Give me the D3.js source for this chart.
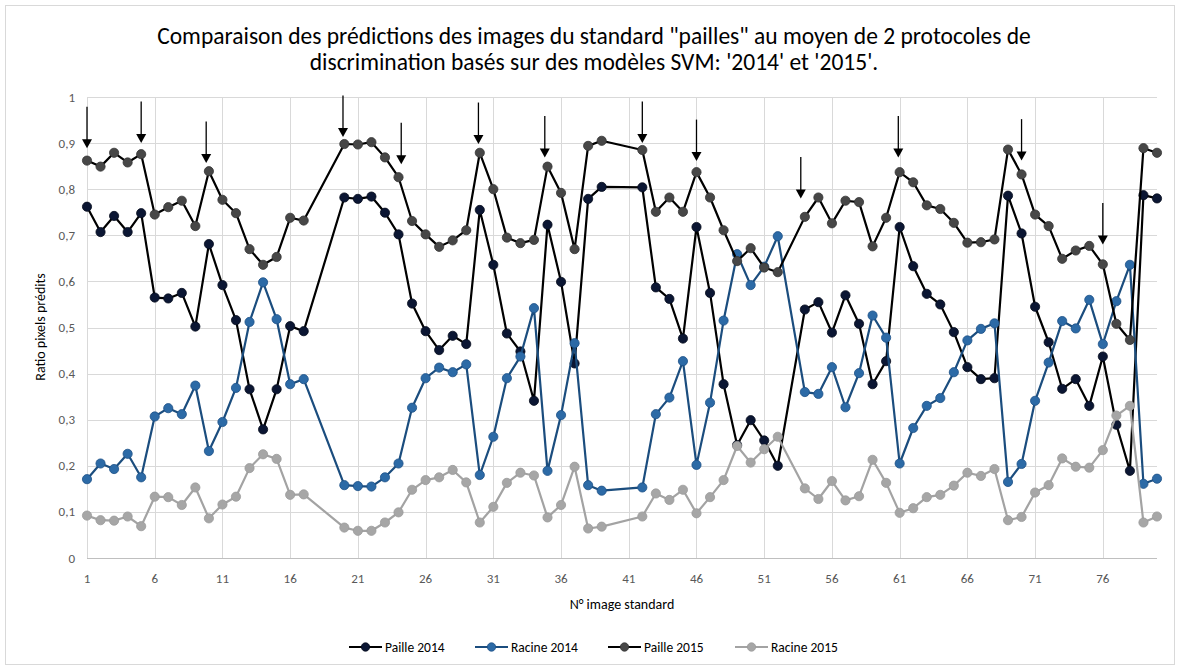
<!DOCTYPE html>
<html>
<head>
<meta charset="utf-8">
<script src="https://cdn.jsdelivr.net/npm/d3@7"></script>
<style>
  html, body { margin: 0; padding: 0; background: #fff; }
  svg { display: block; }
  text { font-family: Carlito, Lato, "Open Sans", sans-serif; }
</style>
</head>
<body>
<svg id="chart" width="1181" height="671"></svg>
<script>
// Image numbers 1..80 (18, 19, 40, 41 and 53 have no measurement)
const imageIds = d3.range(1, 81);
const missing = [18, 19, 40, 41, 53];

// Series values, in image order, skipping the missing images
const paille2014 = [
  0.762, 0.707, 0.742, 0.707, 0.748, 0.565, 0.563, 0.575, 0.502, 0.681,
  0.592, 0.516, 0.366, 0.279, 0.366, 0.503, 0.492,
  0.782, 0.779, 0.784, 0.749, 0.702, 0.552, 0.492, 0.451, 0.482, 0.464, 0.755,
  0.636, 0.487, 0.448, 0.341, 0.723, 0.599, 0.422, 0.779, 0.805,
  0.804, 0.587, 0.562, 0.476, 0.718, 0.575, 0.377, 0.245, 0.299, 0.255, 0.200,
  0.539, 0.555, 0.489, 0.570, 0.508, 0.377, 0.427, 0.718, 0.633, 0.573, 0.550,
  0.490, 0.414, 0.388, 0.390, 0.786, 0.704, 0.545, 0.468, 0.367, 0.388, 0.330,
  0.437, 0.289, 0.189, 0.787, 0.780
];
const racine2014 = [
  0.171, 0.205, 0.193, 0.226, 0.175, 0.307, 0.325, 0.312, 0.374, 0.232,
  0.295, 0.369, 0.512, 0.598, 0.518, 0.377, 0.388,
  0.158, 0.156, 0.155, 0.175, 0.205, 0.326, 0.390, 0.413, 0.403, 0.420, 0.180,
  0.263, 0.390, 0.437, 0.542, 0.189, 0.310, 0.466, 0.158, 0.146,
  0.153, 0.312, 0.348, 0.427, 0.202, 0.337, 0.515, 0.659, 0.592, 0.632, 0.698,
  0.360, 0.356, 0.414, 0.327, 0.401, 0.526, 0.478, 0.205, 0.282, 0.330, 0.347,
  0.403, 0.472, 0.497, 0.509, 0.165, 0.204, 0.341, 0.424, 0.514, 0.498, 0.560,
  0.464, 0.557, 0.636, 0.161, 0.172
];
const paille2015 = [
  0.862, 0.849, 0.879, 0.858, 0.876, 0.745, 0.761, 0.775, 0.720, 0.839,
  0.777, 0.748, 0.670, 0.636, 0.653, 0.738, 0.732,
  0.898, 0.897, 0.902, 0.869, 0.826, 0.731, 0.702, 0.675, 0.689, 0.711, 0.879,
  0.800, 0.695, 0.683, 0.690, 0.849, 0.792, 0.670, 0.894, 0.905,
  0.885, 0.751, 0.782, 0.751, 0.837, 0.782, 0.711, 0.644, 0.672, 0.630, 0.620,
  0.740, 0.782, 0.726, 0.775, 0.772, 0.676, 0.738, 0.837, 0.815, 0.765, 0.757,
  0.727, 0.684, 0.685, 0.691, 0.886, 0.832, 0.745, 0.720, 0.649, 0.667, 0.677,
  0.637, 0.508, 0.473, 0.889, 0.879
];
const racine2015 = [
  0.092, 0.082, 0.081, 0.090, 0.069, 0.133, 0.132, 0.115, 0.153, 0.086,
  0.116, 0.133, 0.195, 0.225, 0.215, 0.137, 0.138,
  0.066, 0.059, 0.059, 0.077, 0.099, 0.148, 0.169, 0.175, 0.191, 0.164, 0.077,
  0.111, 0.163, 0.185, 0.179, 0.088, 0.115, 0.198, 0.064, 0.068,
  0.090, 0.140, 0.126, 0.148, 0.097, 0.132, 0.169, 0.243, 0.207, 0.236, 0.263,
  0.151, 0.128, 0.167, 0.125, 0.134, 0.213, 0.163, 0.098, 0.108, 0.132, 0.137,
  0.157, 0.185, 0.178, 0.193, 0.082, 0.089, 0.142, 0.158, 0.216, 0.198, 0.196,
  0.234, 0.309, 0.330, 0.077, 0.090
];

const seriesNames = ["Paille 2014", "Racine 2014", "Paille 2015", "Racine 2015"];
const xTickLabels = ["1", "6", "11", "16", "21", "26", "31", "36", "41", "46", "51", "56", "61", "66", "71", "76"];
const yTickValues = [0, 0.1, 0.2, 0.3, 0.4, 0.5, 0.6, 0.7, 0.8, 0.9, 1];

// Downward arrows marking selected images: position on the image axis and value at the tip
const arrowAt  = [1, 5, 9.8, 19.9, 24.2, 29.9, 34.8, 42, 46, 53.7, 60.9, 70, 76];
const arrowTip = [0.889, 0.900, 0.857, 0.913, 0.854, 0.898, 0.869, 0.900, 0.861, 0.780, 0.869, 0.862, 0.680];
const arrowLength = 0.09;

const titleLines = [
  "Comparaison des prédictions des images du standard \"pailles\" au moyen de 2 protocoles de",
  "discrimination basés sur des modèles SVM: '2014' et '2015'."
];

// ---- build point lists ----
const presentIds = imageIds.filter(i => !missing.includes(i));
const toPoints = vals => presentIds.map((id, k) => ({ id, v: vals[k] }));

const series = [
  { name: seriesNames[0], pts: toPoints(paille2014), line: "#000000", fill: "#0b1633", stroke: "#050b1c" },
  { name: seriesNames[1], pts: toPoints(racine2014), line: "#1b4d7e", fill: "#2c6aa6", stroke: "#1d5186" },
  { name: seriesNames[2], pts: toPoints(paille2015), line: "#000000", fill: "#474747", stroke: "#333333" },
  { name: seriesNames[3], pts: toPoints(racine2015), line: "#a3a3a3", fill: "#a6a6a6", stroke: "#9a9a9a" }
];

// ---- layout ----
const svg = d3.select("#chart");
const plot = { left: 87, right: 1157, top: 97, bottom: 558 };

const x = d3.scaleLinear().domain([1, 80]).range([plot.left, plot.right]);
const y = d3.scaleLinear().domain([0, 1]).range([plot.bottom, plot.top]);

// chart frame
svg.append("rect")
  .attr("x", 5.5).attr("y", 5.5).attr("width", 1169).attr("height", 659)
  .attr("fill", "#fff").attr("stroke", "#d9d9d9").attr("stroke-width", 1);

// title
const title = svg.append("g").attr("class", "title");
titleLines.forEach((t, k) => {
  title.append("text")
    .attr("x", 594).attr("y", 44 + k * 26)
    .attr("text-anchor", "middle")
    .attr("font-size", 20)
    .attr("fill", "#000")
    .text(t);
});
// fit the first line to its width, same size for the second
{
  const first = title.select("text").node();
  const w = first.getComputedTextLength();
  const size = 20 * 874 / w;
  title.selectAll("text").attr("font-size", size);
}

// horizontal grid
svg.append("g")
  .selectAll("line").data(yTickValues.filter(v => v > 0)).join("line")
  .attr("x1", plot.left).attr("x2", plot.right)
  .attr("y1", d => Math.round(y(d)) + 0.5).attr("y2", d => Math.round(y(d)) + 0.5)
  .attr("stroke", "#d9d9d9").attr("stroke-width", 1);

// vertical grid every 5 images
const xTickValues = xTickLabels.map(Number);
svg.append("g")
  .selectAll("line").data(xTickValues).join("line")
  .attr("x1", d => Math.round(x(d)) + 0.5).attr("x2", d => Math.round(x(d)) + 0.5)
  .attr("y1", plot.top).attr("y2", plot.bottom)
  .attr("stroke", "#d9d9d9").attr("stroke-width", 1);

// x axis line
svg.append("line")
  .attr("x1", plot.left).attr("x2", plot.right)
  .attr("y1", Math.round(y(0)) + 0.5).attr("y2", Math.round(y(0)) + 0.5)
  .attr("stroke", "#bfbfbf").attr("stroke-width", 1);

// y tick labels
const fmt = v => (v === 0 || v === 1) ? String(v) : d3.format(".1f")(v).replace(".", ",");
svg.append("g")
  .selectAll("text").data(yTickValues).join("text")
  .attr("x", 75).attr("y", d => y(d) + 4.5)
  .attr("text-anchor", "end")
  .attr("font-size", 13).attr("fill", "#595959")
  .text(fmt);

// x tick labels
svg.append("g")
  .selectAll("text").data(xTickLabels).join("text")
  .attr("x", d => x(+d)).attr("y", 583)
  .attr("text-anchor", "middle")
  .attr("font-size", 13).attr("fill", "#595959")
  .text(d => d);

// axis titles
svg.append("text")
  .attr("x", 622).attr("y", 609)
  .attr("text-anchor", "middle")
  .attr("font-size", 14).attr("fill", "#000")
  .text("N° image standard");

svg.append("text")
  .attr("transform", "translate(45,327) rotate(-90)")
  .attr("text-anchor", "middle")
  .attr("font-size", 14).attr("fill", "#000")
  .text("Ratio pixels prédits");

// series
const line = d3.line().x(d => x(d.id)).y(d => y(d.v));
const seriesG = svg.append("g");
series.forEach(s => {
  const g = seriesG.append("g");
  g.append("path")
    .attr("d", line(s.pts))
    .attr("fill", "none")
    .attr("stroke", s.line)
    .attr("stroke-width", 2.2)
    .attr("stroke-linejoin", "round");
  g.selectAll("circle").data(s.pts).join("circle")
    .attr("cx", d => x(d.id)).attr("cy", d => y(d.v))
    .attr("r", 4.6)
    .attr("fill", s.fill)
    .attr("stroke", s.stroke).attr("stroke-width", 0.8);
});

// arrows
const arrows = svg.append("g");
arrowAt.forEach((a, k) => {
  const ax = x(a);
  const tipY = y(arrowTip[k]);
  const topY = y(arrowTip[k] + arrowLength);
  arrows.append("line")
    .attr("x1", ax).attr("x2", ax)
    .attr("y1", topY).attr("y2", tipY - 8)
    .attr("stroke", "#000").attr("stroke-width", 1.3);
  arrows.append("path")
    .attr("d", `M${ax - 5},${tipY - 9} L${ax + 5},${tipY - 9} L${ax},${tipY} Z`)
    .attr("fill", "#000");
});

// legend
const legendX = [349, 475, 608, 735];
const legend = svg.append("g");
series.forEach((s, k) => {
  const lx = legendX[k];
  const ly = 647;
  legend.append("line")
    .attr("x1", lx).attr("x2", lx + 33)
    .attr("y1", ly).attr("y2", ly)
    .attr("stroke", s.line).attr("stroke-width", 2.2);
  legend.append("circle")
    .attr("cx", lx + 16.5).attr("cy", ly).attr("r", 4.2)
    .attr("fill", s.fill).attr("stroke", s.stroke).attr("stroke-width", 0.8);
  legend.append("text")
    .attr("x", lx + 36).attr("y", ly + 5)
    .attr("font-size", 13.5).attr("fill", "#000")
    .text(s.name);
});
</script>
</body>
</html>
